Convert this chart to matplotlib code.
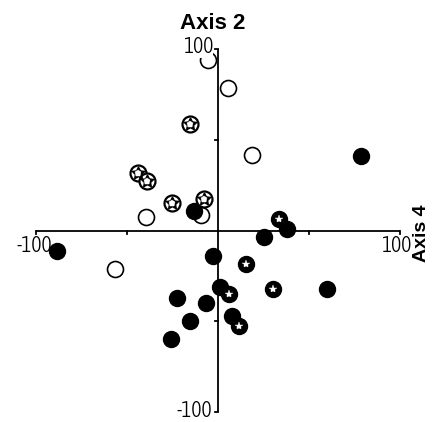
import matplotlib
matplotlib.use("Agg")
import matplotlib.pyplot as plt
from matplotlib import font_manager
from matplotlib.font_manager import FontProperties

# ---- data (Axis 4 = x, Axis 2 = y) ----
open_x = [-5.5, 5.5, 18.7, -39.6, -9.3, -56.6]
open_y = [93.9, 78.5, 41.6, 7.4, 8.5, -21.2]

filled_x = [78.6, -13.2, 25.3, 37.9, -88.5, -2.7, 1.1, -22.5, -6.6, -15.4, 7.7, -25.8, 59.9]
filled_y = [41.0, 10.7, -3.6, 0.8, -11.3, -14.0, -31.1, -37.2, -39.9, -49.9, -47.1, -59.8, -32.2]

star_x = [33.5, 15.4, 6.0, 30.2, 11.5]
star_y = [6.3, -18.5, -35.0, -32.2, -52.6]

ball_x = [-15.4, -44.0, -39.0, -25.3, -7.7]
ball_y = [58.7, 31.7, 27.3, 15.2, 17.4]

axis_ticks = [-100, -50, 50, 100]
x_label = "Axis 4"
y_label = "Axis 2"

# ---- fonts: look for a light condensed / narrow sans for the numbers ----
def _w(f):
    w = f.weight
    if isinstance(w, int):
        return w
    return font_manager.weight_dict.get(str(w).lower(), 400)

cands = []
for f in font_manager.fontManager.ttflist:
    nm = f.name
    st = str(f.stretch).lower()
    narrow = ('Narrow' in nm or 'Condensed' in nm or 'condensed' in st or st in ('300', '375', '400'))
    if narrow and f.style == 'normal' and 'Mono' not in nm and 'Serif' not in nm and 'Bold' not in f.fname:
        w = _w(f)
        if w <= 400:
            cands.append((abs(w - 300), nm, f.fname))
if cands:
    cands.sort()
    num_fp = FontProperties(fname=cands[0][2], size=15.5)
else:
    num_fp = FontProperties(family='DejaVu Sans', size=13)

lab_fp = FontProperties(family=['Liberation Sans', 'DejaVu Sans'], weight='bold', size=16)
lab4_fp = FontProperties(family=['Liberation Sans', 'DejaVu Sans'], weight='bold', size=14)

fig = plt.figure(figsize=(4.35, 4.22), dpi=100)
ax = fig.add_axes([0, 0, 1, 1])
ax.set_xlim(-119.8, 119.2)
ax.set_ylim(-105.5, 127.0)
ax.axis('off')

lw = 1.3
# axis lines
ax.plot([-100, 100], [0, 0], color='black', lw=lw, zorder=1, solid_capstyle='butt')
ax.plot([0, 0], [-100, 100], color='black', lw=lw, zorder=1, solid_capstyle='butt')
tl = 1.8  # tick length in data units
for t in axis_ticks:
    ax.plot([t, t], [0, -tl], color='black', lw=lw, zorder=1)
    ax.plot([0, -tl], [t, t], color='black', lw=lw, zorder=1)

ms = 11.5
# open circles
ax.plot(open_x, open_y, 'o', ms=ms, mfc='white', mec='black', mew=1.2, ls='none', zorder=2)
# filled circles
ax.plot(filled_x, filled_y, 'o', ms=ms, mfc='black', mec='black', mew=1.0, ls='none', zorder=3)
# soccer-ball circles
ax.plot(ball_x, ball_y, 'o', ms=ms, mfc='white', mec='black', mew=1.6, ls='none', zorder=4)
ax.plot(ball_x, ball_y, marker=(5, 1, 0), ms=9.5, mfc='black', mec='black', mew=0.9, ls='none', zorder=5)
ax.plot(ball_x, ball_y, 'p', ms=4.5, mfc='white', mec='white', mew=0.3, ls='none', zorder=6)
# star circles
ax.plot(star_x, star_y, 'o', ms=ms, mfc='black', mec='black', mew=1.0, ls='none', zorder=7)
ax.plot(star_x, star_y, '*', ms=6, mfc='white', mec='white', mew=0.3, ls='none', zorder=8)

# labels
ax.text(-2.7, 113.8, y_label, ha='center', va='center', fontproperties=lab_fp, zorder=10)
ax.text(107.0, -1.5, x_label, ha='left', va='center', rotation=90, fontproperties=lab4_fp, zorder=10)
ax.text(-2.5, 101, '100', ha='right', va='center', fontproperties=num_fp,
        zorder=10, bbox=dict(facecolor='white', edgecolor='none', pad=0))
ax.text(-3.0, -99.6, '-100', ha='right', va='center', fontproperties=num_fp, zorder=10)
ax.text(-101, -8.5, '-100', ha='center', va='center', fontproperties=num_fp, zorder=10)
ax.text(98.0, -8.5, '100', ha='center', va='center', fontproperties=num_fp, zorder=10)

fig.savefig('out.png', dpi=100)
